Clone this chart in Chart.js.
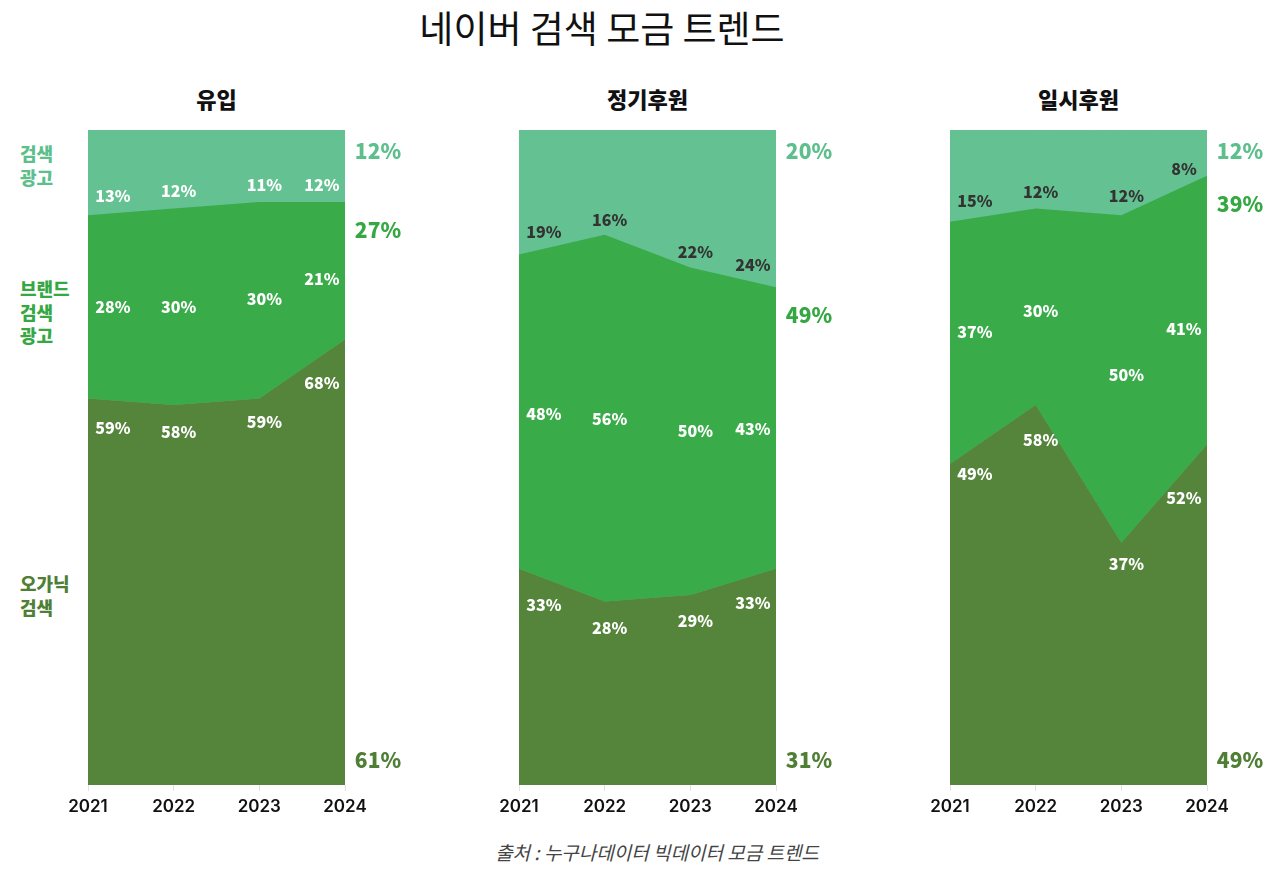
<!DOCTYPE html>
<html><head><meta charset="utf-8">
<script src="https://cdn.jsdelivr.net/npm/chart.js@4.4.1/dist/chart.umd.min.js"></script>
<style>
html,body{margin:0;padding:0;background:#fff;overflow:hidden;width:1280px;height:869px;}
.t{position:absolute;font-family:"Noto Sans CJK KR","Noto Sans",sans-serif;white-space:nowrap;}
#title{left:0;width:1204px;top:3px;text-align:center;font-size:37px;line-height:48px;font-weight:400;color:#111;}
.sub{top:83px;width:300px;text-align:center;font-size:22px;line-height:30px;font-weight:800;color:#111;}
.side{left:20px;font-size:18px;line-height:23.5px;font-weight:900;}
#src{left:457px;width:400px;top:839px;text-align:center;font-size:19px;line-height:26px;font-style:italic;color:#444;}
canvas{position:absolute;}
</style></head>
<body>
<div id="title" class="t">네이버 검색 모금 트렌드</div>
<div id="src" class="t">출처 : 누구나데이터 빅데이터 모금 트렌드</div>
<script>
const years = ['2021','2022','2023','2024'];
const panelTitles = ['유입','정기후원','일시후원'];
const seriesNames = ['오가닉 검색','브랜드 검색 광고','검색 광고'];
const organic = [[59,58,59,68],[33,28,29,33],[49,58,37,52]];
const brand   = [[28,30,30,21],[48,56,50,43],[37,30,50,41]];
const searchAd= [[13,12,11,12],[19,16,22,24],[15,12,12,8]];
const totalOrganic = [61,31,49];
const totalBrand   = [27,49,39];
const totalAd      = [12,20,12];

const COL_ORG = '#55843b', COL_BR = '#39ab49', COL_AD = '#63c192';
const TXT_ORG = '#4f7f35', TXT_BR = '#35a843', TXT_AD = '#5cbf8c';
const plotLefts = [88, 519, 950];
const plotW = 257, plotTop = 130, plotH = 655;
const padL = 40, padR = 70, padT = 10, axisH = 40;
const adLabelColors = ['#ffffff','#333333','#333333'];
const NUMFONT = '"Noto Sans CJK KR","Noto Sans",sans-serif';

const sideDefs = [
  {top:142, color:TXT_AD},
  {top:277, color:TXT_BR},
  {top:572, color:TXT_ORG}
];
const sideText = [seriesNames[2], seriesNames[1], seriesNames[0]];
sideDefs.forEach((d,k)=>{
  const el=document.createElement('div');
  el.className='t side';
  el.style.top=d.top+'px'; el.style.color=d.color;
  el.innerHTML=sideText[k].split(' ').join('<br>');
  document.body.appendChild(el);
});

const areaBg = {
  id:'areaBg',
  beforeDatasetsDraw(chart){
    const a=chart.chartArea, c=chart.ctx;
    c.save(); c.fillStyle=COL_AD; c.fillRect(a.left,a.top,a.right-a.left,a.bottom-a.top); c.restore();
  }
};

function yAt(pts, x){
  for(let i=0;i<pts.length-1;i++){
    if(x>=pts[i].x && x<=pts[i+1].x){
      const t=(x-pts[i].x)/(pts[i+1].x-pts[i].x);
      return pts[i].y+t*(pts[i+1].y-pts[i].y);
    }
  }
  return x<pts[0].x ? pts[0].y : pts[pts.length-1].y;
}

const labelPlugin = {
  id:'labelsP',
  afterDatasetsDraw(chart, args, opts){
    const p = opts.panel;
    const c = chart.ctx, a = chart.chartArea;
    const m0 = chart.getDatasetMeta(0).data, m1 = chart.getDatasetMeta(1).data;
    c.save();
    c.textAlign='center'; c.textBaseline='middle';
    c.font = '900 16px '+NUMFONT;
    const n = years.length;
    const lx = (i)=>{
      if(i===0) return a.left+25;
      if(i===n-1) return a.right-23;
      return m0[i].x+5;
    };
    for(let i=0;i<n;i++){
      const x = lx(i);
      const yOrg = yAt(m0,x), yBr = yAt(m1,x);
      c.fillStyle='#fff';
      c.fillText(organic[p][i]+'%', x, yOrg+27);
      c.fillText(brand[p][i]+'%', x, (yOrg+yBr)/2);
      c.fillStyle=adLabelColors[p];
      c.fillText(searchAd[p][i]+'%', x, Math.max(yBr-17, a.top+14));
    }
    c.font = '900 21px '+NUMFONT;
    const tx = a.right+33;
    c.fillStyle=TXT_AD; c.fillText(totalAd[p]+'%', tx, a.top+21);
    c.fillStyle=TXT_BR; c.fillText(totalBrand[p]+'%', tx, m1[n-1].y+28);
    c.fillStyle=TXT_ORG; c.fillText(totalOrganic[p]+'%', tx, a.bottom-25);
    c.restore();
  }
};

panelTitles.forEach((name,p)=>{
  const st=document.createElement('div');
  st.className='t sub'; st.textContent=name;
  st.style.left=(plotLefts[p]+plotW/2-150)+'px';
  document.body.appendChild(st);

  const cv=document.createElement('canvas');
  const W=padL+plotW+padR, H=padT+plotH+axisH;
  cv.width=W; cv.height=H;
  cv.style.width=W+'px'; cv.style.height=H+'px';
  cv.style.left=(plotLefts[p]-padL)+'px'; cv.style.top=(plotTop-padT)+'px';
  document.body.appendChild(cv);

  new Chart(cv.getContext('2d'),{
    type:'line',
    data:{
      labels:years,
      datasets:[
        {label:seriesNames[0], data:organic[p], backgroundColor:COL_ORG, fill:'origin'},
        {label:seriesNames[1], data:brand[p], backgroundColor:COL_BR, fill:'-1'},
        {label:seriesNames[2], data:searchAd[p], backgroundColor:COL_AD, fill:'-1'}
      ]
    },
    options:{
      responsive:false, animation:false, devicePixelRatio:1,
      layout:{padding:{left:padL,right:padR,top:padT,bottom:0}},
      elements:{point:{radius:0,hoverRadius:0},line:{borderWidth:0,tension:0}},
      plugins:{legend:{display:false},tooltip:{enabled:false},labelsP:{panel:p}},
      scales:{
        x:{type:'category',offset:false,
           grid:{drawOnChartArea:false,drawTicks:true,tickLength:6,color:'#e2e2e2'},
           border:{display:false},
           ticks:{color:'#111',font:{family:'Inter, "Noto Sans", sans-serif',size:17,weight:'600'},padding:6,maxRotation:0,autoSkip:false},
           afterFit(s){ s.height=axisH; }
        },
        y:{display:false,stacked:true,min:0,max:100}
      }
    },
    plugins:[areaBg,labelPlugin]
  });
});
</script>
</body></html>
